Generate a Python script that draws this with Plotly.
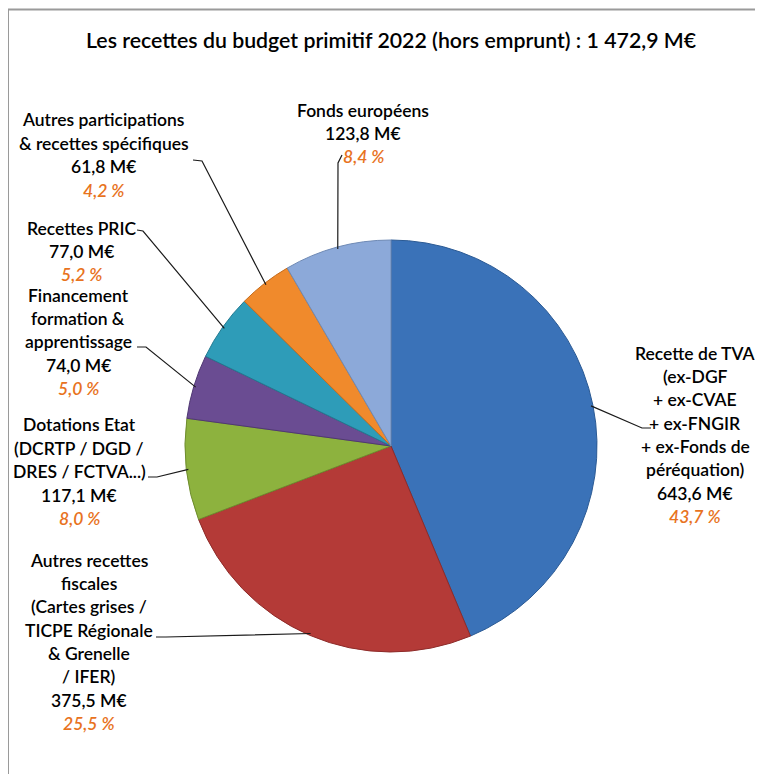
import math
import plotly.graph_objects as go

W, H = 763, 774
OFF = 8  # page body margin

title = "Les recettes du budget primitif 2022 (hors emprunt) : 1 472,9 M€"
categories = [
    ["Recette de TVA", "(ex-DGF", "+ ex-CVAE", "+ ex-FNGIR", "+ ex-Fonds de", "péréquation)"],
    ["Autres recettes", "fiscales", "(Cartes grises /", "TICPE Régionale", "& Grenelle", "/ IFER)"],
    ["Dotations Etat", "(DCRTP / DGD /", "DRES / FCTVA...)"],
    ["Financement", "formation &", "apprentissage"],
    ["Recettes PRIC"],
    ["Autres participations", "& recettes spécifiques"],
    ["Fonds européens"],
]
values = [643.6, 375.5, 117.1, 74.0, 77.0, 61.8, 123.8]
colors = ["#3A72B8", "#B43A37", "#8DB23E", "#6A4C92", "#2E9CB8", "#F08A2C", "#8CA9D9"]
edge_colors = ["#2B5A94", "#8E2B29", "#6E8C2E", "#503873", "#227A91", "#C56C1C", "#6F8AB5"]

# layout (screen pixels): label text centre x, first line y, leader polyline from label
label_cx = [695, 89, 79, 78, 81, 104, 363]
label_y0 = [353, 560, 425, 295, 228, 120, 110]
leader_from = [
    [(651, 428), (642, 428)],
    [(156, 637), (166, 637)],
    [(148, 477), (157, 477)],
    [(137, 347), (146, 347)],
    [(137, 230), (143, 231)],
    [(193, 160), (202, 161)],
    [(342, 155), (338, 163)],
]
LINE = 23.4

cx, cy, R = 391, 446, 206


def px(x):
    return (x - OFF) / W


def py(y):
    return 1 - (y - OFF) / H


fig = go.Figure(go.Pie(
    values=values,
    sort=False,
    direction="clockwise",
    rotation=0,
    marker=dict(colors=colors, line=dict(color=edge_colors, width=1)),
    textinfo="none",
    hoverinfo="skip",
    showlegend=False,
    domain=dict(x=[px(cx - R), px(cx + R)], y=[py(cy + R), py(cy - R)]),
))

total = sum(values)
shapes = []
annotations = []

font_main = "Lato, Calibri, sans-serif"
FS = 17.5
WT = 600

cum = 0.0
for i, v in enumerate(values):
    mid = (cum + v / 2) / total * 2 * math.pi
    cum += v
    ex = cx + (R - 2) * math.sin(mid)
    ey = cy - (R - 2) * math.cos(mid)
    pts = leader_from[i] + [(ex, ey)]
    path = "M " + " L ".join(f"{px(a)},{py(b)}" for a, b in pts)
    shapes.append(dict(type="path", xref="paper", yref="paper", path=path,
                       line=dict(color="#1a1a1a", width=1.2)))
    lines = list(categories[i]) + [f"{v:.1f}".replace(".", ",") + " M€"]
    pct = f"{v / total * 100:.1f}".replace(".", ",") + " %"
    y = label_y0[i]
    for t in lines:
        annotations.append(dict(text=t, x=px(label_cx[i]), y=py(y), xref="paper", yref="paper",
                                showarrow=False, xanchor="center", yanchor="middle",
                                font=dict(family=font_main, size=FS, color="#000000", weight=WT)))
        y += LINE
    annotations.append(dict(text=f"<i>{pct}</i>", x=px(label_cx[i]), y=py(y), xref="paper", yref="paper",
                            showarrow=False, xanchor="center", yanchor="middle",
                            font=dict(family=font_main, size=FS, color="#E8731E", weight=WT)))

annotations.append(dict(text=title, x=px(392), y=py(40), xref="paper", yref="paper",
                        showarrow=False, xanchor="center", yanchor="middle",
                        font=dict(family=font_main, size=21.3, color="#000000", weight=WT)))

# frame
shapes.append(dict(type="line", xref="paper", yref="paper", x0=px(8), y0=py(9.5), x1=1.02, y1=py(9.5),
                   line=dict(color="#9a9a9a", width=2)))
shapes.append(dict(type="line", xref="paper", yref="paper", x0=px(8), y0=py(9.5), x1=px(8), y1=-0.02,
                   line=dict(color="#9a9a9a", width=2)))

fig.update_layout(
    width=W, height=H,
    margin=dict(l=0, r=0, t=0, b=0),
    paper_bgcolor="white", plot_bgcolor="white",
    shapes=shapes, annotations=annotations,
)

fig.write_html("out.html")
